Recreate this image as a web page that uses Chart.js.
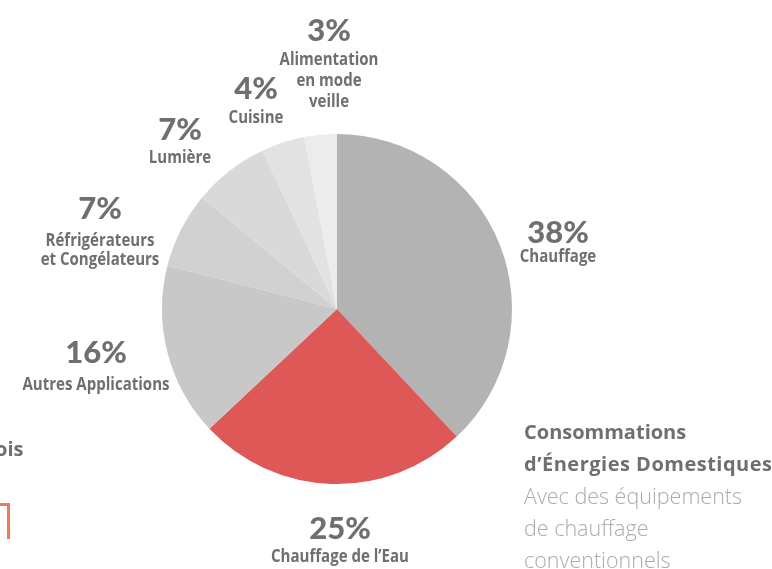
<!DOCTYPE html>
<html>
<head>
<meta charset="utf-8">
<script src="https://cdn.jsdelivr.net/npm/chart.js@4"></script>
<style>
  html, body { margin: 0; padding: 0; background: #fff; overflow: hidden; }
  #wrap { position: relative; width: 772px; height: 569px; }
  #pie { position: absolute; left: 0; top: 0; }
  .title { position: absolute; left: 524px; top: 416px; font-family: "Open Sans", sans-serif; font-size: 20px; line-height: 32px; white-space: nowrap; }
  .title b { color: #6f6f6f; font-weight: 700; display: block; }
  .title b + b { letter-spacing: 0.5px; }
  .title span { color: #ababab; font-weight: 300; display: block; font-size: 21.5px; }
  .cut { position: absolute; left: -5px; top: 433px; font-family: "Open Sans", sans-serif; font-weight: 700; font-size: 20px; color: #6f6f6f; line-height: 31px; }
  .bracket { position: absolute; left: -41px; top: 503px; width: 48px; height: 33px; border-top: 3px solid #ea7b55; border-right: 3px solid #ea7b55; }
</style>
</head>
<body>
<div id="wrap">
  <canvas id="pie" width="772" height="569"></canvas>
  <div class="cut">ois</div>
  <div class="bracket"></div>
  <div class="title">
    <b>Consommations</b>
    <b>d’Énergies Domestiques</b>
    <span>Avec des équipements</span>
    <span>de chauffage</span>
    <span>conventionnels</span>
  </div>
</div>
<script>
// Household energy use, share per usage (%)
const categories = [
  ['Chauffage'],
  ['Chauffage de l’Eau'],
  ['Autres Applications'],
  ['Réfrigérateurs', 'et Congélateurs'],
  ['Lumière'],
  ['Cuisine'],
  ['Alimentation', 'en mode', 'veille']
]
const shares = [38, 25, 16, 7, 7, 4, 3]
const sliceColors = ['#b3b3b3', '#df5858', '#c8c8c8', '#d1d1d1', '#d9d9d9', '#e2e2e2', '#ececec']

// where each label block sits: centre x, percent baseline, first text baseline, line step
const labelLayout = [
  { x: 558, pct: 243, txt: 262, step: 19 },
  { x: 340, pct: 539, txt: 562, step: 19 },
  { x: 96, pct: 363, txt: 390, step: 19 },
  { x: 100, pct: 219, txt: 246, step: 19 },
  { x: 180, pct: 140, txt: 163, step: 19 },
  { x: 256, pct: 99, txt: 123, step: 19 },
  { x: 329, pct: 41, txt: 65, step: 21 }
]

// no narrow font installed, so squeeze the label text horizontally
const narrow = 0.835

const sliceLabels = {
  id: 'sliceLabels',
  afterDraw (chart) {
    const ctx = chart.ctx
    const values = chart.data.datasets[0].data
    ctx.save()
    ctx.fillStyle = '#6f6f6f'
    ctx.textAlign = 'center'
    ctx.textBaseline = 'alphabetic'
    values.forEach((v, i) => {
      const pos = labelLayout[i]
      ctx.font = '900 31px Lato, "Open Sans", sans-serif'
      ctx.fillText(v + '%', pos.x, pos.pct)
      ctx.font = '700 18px "Open Sans", sans-serif'
      chart.data.labels[i].forEach((line, j) => {
        ctx.save()
        ctx.translate(pos.x, pos.txt + j * pos.step)
        ctx.scale(narrow, 1)
        ctx.fillText(line, 0, 0)
        ctx.restore()
      })
    })
    ctx.restore()
  }
}

new Chart(document.getElementById('pie'), {
  type: 'pie',
  data: {
    labels: categories,
    datasets: [{
      data: shares,
      backgroundColor: sliceColors,
      borderWidth: 0
    }]
  },
  options: {
    responsive: false,
    devicePixelRatio: 1,
    animation: false,
    layout: { padding: { left: 162, right: 260, top: 134, bottom: 85 } },
    plugins: { legend: { display: false }, tooltip: { enabled: false } }
  },
  plugins: [sliceLabels]
})
</script>
</body>
</html>
